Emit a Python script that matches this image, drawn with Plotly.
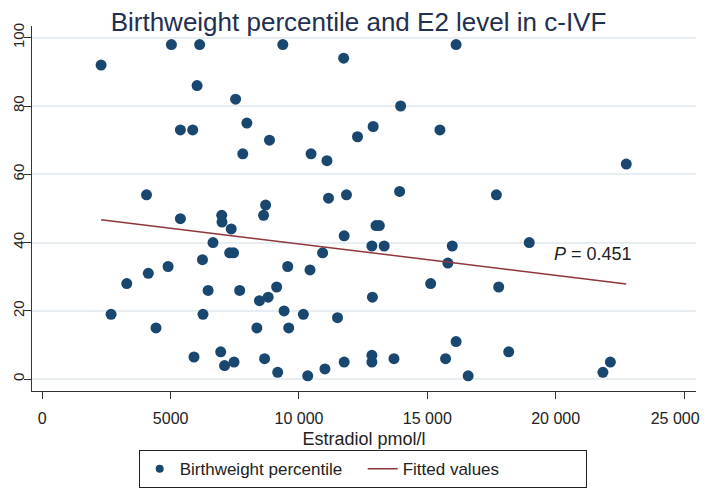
import plotly.graph_objects as go

# Estradiol (pmol/l) and birthweight percentile
e2 = [2290, 5030, 6130, 9370, 16120, 11740, 6030, 7530, 13960, 7970,
      5380, 5860, 15490, 12890, 12280, 8850, 7810, 10470, 11090, 22750,
      4060, 17690, 11150, 11850, 13920, 8700, 8620, 5380, 6990, 7000,
      7360, 6650, 7300, 7450, 6240, 4900, 4130, 3290, 6460, 7690,
      8460, 8800, 2680, 6260, 4430, 8360, 5910, 6950, 7100, 7470,
      8660, 11760, 10920, 13000, 13130, 12840, 13320, 15970, 15800, 15130,
      9560, 10430, 9130, 12860, 9420, 10170, 9600, 11500, 9170, 10340,
      11010, 11760, 12840, 12840, 13700, 15710, 16120, 16590, 18970, 17780,
      18170, 21840, 22130]
bw_pct = [92, 98, 98, 98, 98, 94, 86, 82, 80, 75,
          73, 73, 73, 74, 71, 70, 66, 66, 64, 63,
          54, 54, 53, 54, 55, 51, 48, 47, 48, 46,
          44, 40, 37, 37, 35, 33, 31, 28, 26, 26,
          23, 24, 19, 19, 15, 15, 6.5, 8, 4, 5,
          6, 42, 37, 45, 45, 39, 39, 39, 34, 28,
          33, 32, 27, 24, 20, 19, 15, 18, 2, 1,
          3, 5, 7, 5, 6, 6, 11, 1, 40, 27,
          8, 2, 5]

# fitted line end points
fit_x = [2290, 22750]
fit_y = [46.7, 27.9]

x_ticks = [0, 5000, 10000, 15000, 20000, 25000]
# trailing no-break spaces keep the last label clear of the right edge
x_labels = ["0", "5000", "10 000", "15 000", "20 000", "25 000\u00a0\u00a0\u00a0\u00a0"]
y_ticks = [0, 20, 40, 60, 80, 100]

navy = "#1a476f"
maroon = "#90353b"
txt = "#222222"

fig = go.Figure()
fig.add_trace(go.Scatter(
    x=e2, y=bw_pct, mode="markers", showlegend=False,
    marker=dict(color=navy, size=11, line=dict(width=0)),
))
fig.add_trace(go.Scatter(
    x=fit_x, y=fit_y, mode="lines", showlegend=False,
    line=dict(color=maroon, width=1.5),
))
# legend-only entries (smaller legend marker, as in the original)
fig.add_trace(go.Scatter(
    x=[None], y=[None], mode="markers", name="Birthweight percentile",
    marker=dict(color=navy, size=8),
))
fig.add_trace(go.Scatter(
    x=[None], y=[None], mode="lines", name="Fitted values",
    line=dict(color=maroon, width=1.5),
))

fig.add_annotation(
    x=19870, y=36.7, xanchor="left", yanchor="middle",
    text="<i>P</i> = 0.451", showarrow=False,
    font=dict(size=18, color=txt),
)

# the page body has an 8px margin: keep the figure inside the window
fig.update_layout(
    width=701, height=484,
    margin=dict(l=24, r=13, t=18, b=101),
    paper_bgcolor="white", plot_bgcolor="white",
    font=dict(family="Liberation Sans, Arial, sans-serif", size=16, color=txt),
    title=dict(text="Birthweight percentile and E2 level in c-IVF",
               x=0.5, xanchor="center", y=0.99, yanchor="top",
               font=dict(size=26, color="#1f3050")),
    showlegend=True,
    legend=dict(orientation="h", x=0.498, xanchor="center",
                yref="container", y=0.008, yanchor="bottom",
                bordercolor="#222222", borderwidth=1, font=dict(size=17),
                entrywidth=178, tracegroupgap=0),
    xaxis=dict(range=[-401, 25466], tickvals=x_ticks, ticktext=x_labels,
               automargin=False, ticklabeloverflow="allow", ticklabelstandoff=6,
               showgrid=False, zeroline=False, showline=True, linecolor="#333333",
               linewidth=1, ticks="outside", ticklen=7, tickcolor="#333333",
               title=dict(text="Estradiol pmol/l", font=dict(size=18), standoff=6)),
    yaxis=dict(range=[-3.46, 103.43], tickvals=y_ticks, tickangle=-90,
               automargin=False, ticklabeloverflow="allow", ticklabelstandoff=-6,
               tickfont=dict(size=15),
               showgrid=True, gridcolor="#e6eef1", gridwidth=1.5,
               zeroline=False, showline=True, linecolor="#333333", linewidth=1,
               ticks="outside", ticklen=7, tickcolor="#333333"),
)

fig.write_html("out.html")
